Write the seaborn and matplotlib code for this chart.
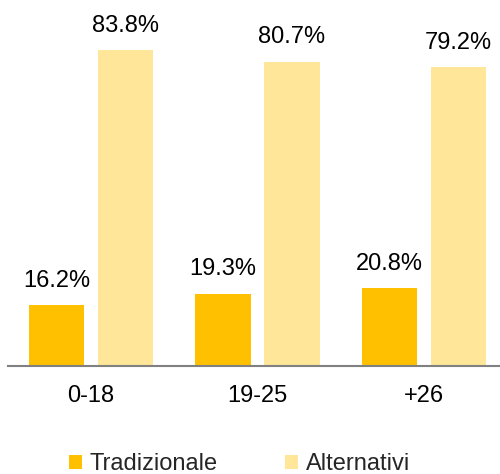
import matplotlib
matplotlib.use("Agg")
import matplotlib.pyplot as plt
import seaborn as sns
import pandas as pd

# Age bands and share of each channel (%)
fasce = ["0-18", "19-25", "+26"]
tradizionale = [16.2, 19.3, 20.8]
alternativi = [83.8, 80.7, 79.2]
serie = ["Tradizionale", "Alternativi"]
colori = ["#FFC000", "#FFE699"]

df = pd.DataFrame({
    "fascia": fasce * 2,
    "quota": tradizionale + alternativi,
    "canale": [serie[0]] * len(fasce) + [serie[1]] * len(fasce),
})

sns.set_theme(style="white")
plt.rcParams["font.family"] = ["Liberation Sans", "DejaVu Sans"]

fig = plt.figure(figsize=(5.0, 4.74), dpi=100)
ax = fig.add_axes([0.0155, 0.2268, 0.999, 0.757])

sns.barplot(data=df, x="fascia", y="quota", hue="canale", order=fasce,
            hue_order=serie, palette=colori, width=0.83, gap=0.2,
            linewidth=0, saturation=1, ax=ax, legend=False)

for cont in ax.containers:
    ax.bar_label(cont, fmt="%.1f%%", padding=9.5, fontsize=17, color="#000000")

ax.set_xlim(-0.5, 2.5)
ax.set_ylim(0, 95)
ax.set_xlabel("")
ax.set_ylabel("")
ax.set_yticks([])
ax.tick_params(axis="x", length=0, pad=13, labelsize=17, colors="#000000")
for side in ["left", "right", "top"]:
    ax.spines[side].set_visible(False)
ax.spines["bottom"].set_color("#808080")
ax.spines["bottom"].set_linewidth(1.5)

handles = [plt.Rectangle((0, 0), 1, 1, facecolor=c, edgecolor="none") for c in colori]
fig.legend(handles, serie, loc="center left", bbox_to_anchor=(69 / 500, 1 - 464 / 474),
           frameon=False, ncol=2, fontsize=17, handlelength=0.55, handleheight=0.55,
           handletextpad=0.33, columnspacing=2.85, borderpad=0, borderaxespad=0)

fig.savefig("out.png", dpi=100)
